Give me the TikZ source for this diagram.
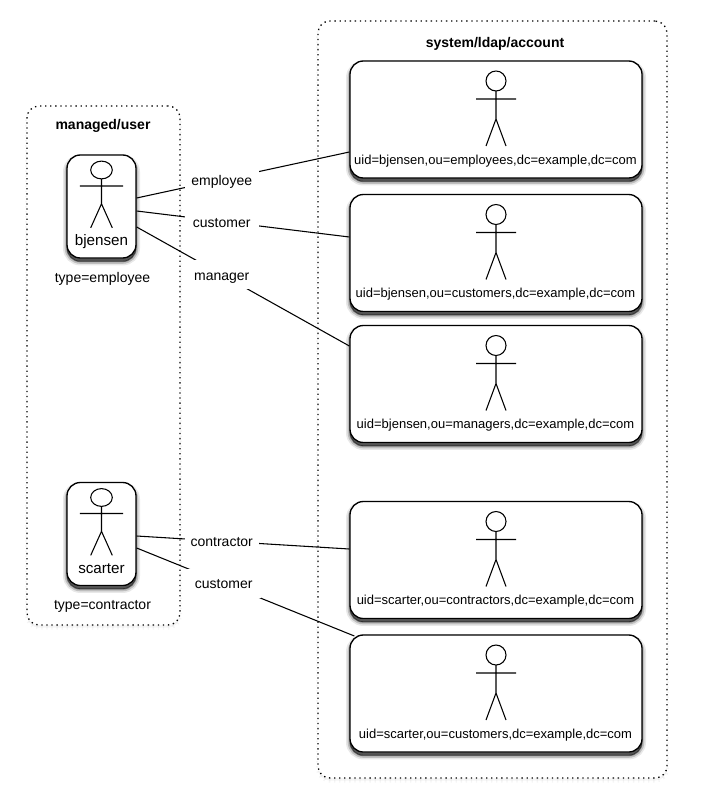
\documentclass[tikz,border=0pt]{standalone}
\usepackage{fontspec}
\setmainfont{Liberation Sans}
\usetikzlibrary{calc,shadows}
\tikzset{
  softshadow/.style={
    general shadow={fill=black,draw=black,line width=6pt,opacity=.09,shadow yshift=-2.6pt},
    general shadow={fill=black,draw=black,line width=3.5pt,opacity=.18,shadow yshift=-2.6pt},
    general shadow={fill=black,draw=black,line width=1pt,opacity=.4,shadow yshift=-2.6pt}},
  framebox/.style={draw,fill=white,line width=1pt,dash pattern=on 1pt off 2.8pt,rounded corners=9pt,
    general shadow={fill=black,draw=black,line width=3pt,opacity=.04,shadow yshift=-2pt}},
  personbox/.style={draw,fill=white,line width=1pt,rounded corners=10pt,softshadow,minimum width=51.75pt,minimum height=77.25pt},
  accountbox/.style={draw,fill=white,line width=1pt,rounded corners=10pt,softshadow,minimum width=219pt,minimum height=87.75pt},
  title/.style={font=\fontsize{10.5}{12}\selectfont\bfseries},
  caption/.style={font=\fontsize{10.5}{12}\selectfont},
  uidtext/.style={font=\fontsize{9.75}{11}\selectfont,inner sep=0pt},
  link/.style={line width=.8pt},
  linklabel/.style={fill=white,pos=.4,inner sep=0pt,minimum width=55.5pt,minimum height=22pt,text height=11pt,text depth=2.5pt,font=\fontsize{10.5}{12}\selectfont},
  pics/stickman/.style={code={
    \draw[line width=.8pt] (0,0) ellipse (10 and 10);
    \draw[line width=.8pt] (0,10) -- (0,38) (-20,18) -- (20,18) (-10,65) -- (0,38) -- (10,65);
  }}
}
\begin{document}
\begin{tikzpicture}[x=.75pt,y=-.75pt]
\useasboundingbox (0,0) rectangle (700,809);
% dotted frames
\node[framebox,minimum width=114.75pt,minimum height=389.25pt] (userframe) at (103.5,365.5) {};
\node[framebox,minimum width=261.75pt,minimum height=567.75pt] (accountframe) at (492.5,399.5) {};
\node[title] (usertitle) at (103,125.5) {managed/user};
\node[title] (accounttitle) at (495,43.5) {system/ldap/account};
% managed users
\foreach \name/\cy/\who/\kind in {bjensen/206.5/bjensen/employee,scarter/534/scarter/contractor}{
  \node[personbox] (\name) at (101.5,\cy) {};
  \pic[xscale=1.08,yscale=.89] at ($(\name)+(0,-36.5)$) {stickman};
  \node[caption,font=\fontsize{11.4}{13}\selectfont] (\name text) at ($(\name)+(0,35)$) {\who};
  \node[caption] (\name type) at ($(\name)+(1,72)$) {type=\kind};
}
% accounts
\foreach \name/\cy/\who in {
  acctemployee/119.5/uid=bjensen{,}ou=employees{,}dc=example{,}dc=com,
  acctcustomer/253/uid=bjensen{,}ou=customers{,}dc=example{,}dc=com,
  acctmanager/384/uid=bjensen{,}ou=managers{,}dc=example{,}dc=com,
  acctcontractor/560/uid=scarter{,}ou=contractors{,}dc=example{,}dc=com,
  acctscarter/693.5/uid=scarter{,}ou=customers{,}dc=example{,}dc=com}{
  \node[accountbox] (\name) at (496,\cy) {};
  \pic at ($(\name)+(0,-38.5)$) {stickman};
  \node[uidtext] (\name text) at ($(\name)+(-.5,41.5)$) {\who};
}
% connectors
\draw[link] ($(bjensen.east)+(0,-8.5)$) -- node[linklabel] {employee} ($(acctemployee.west)+(0,32.5)$);
\draw[link] ($(bjensen.east)+(0,4.5)$) -- node[linklabel] {customer} ($(acctcustomer.west)+(0,-16)$);
\draw[link] ($(bjensen.east)+(0,20.5)$) -- node[linklabel] {manager} ($(acctmanager.west)+(0,-38)$);
\draw[link] ($(scarter.east)+(0,2)$) -- node[linklabel] {contractor} ($(acctcontractor.west)+(0,-11)$);
\draw[link] ($(scarter.east)+(0,14)$) -- node[linklabel] {customer} ($(acctscarter.west)+(5,-57.5)$);
\end{tikzpicture}
\end{document}
